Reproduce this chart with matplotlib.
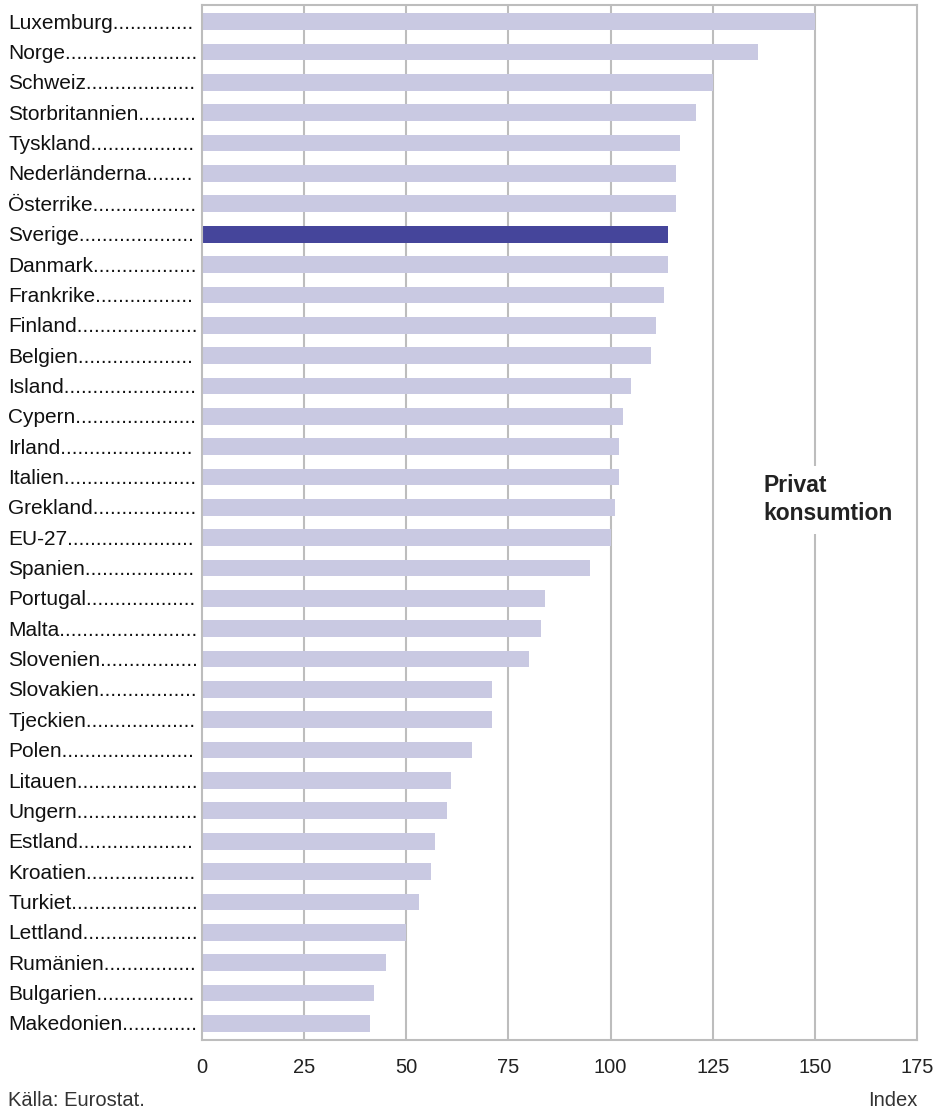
import matplotlib
matplotlib.use("Agg")
import matplotlib.pyplot as plt
import matplotlib.transforms as mtransforms

plt.rcParams['font.family'] = ['Liberation Sans', 'DejaVu Sans']

countries = ['Luxemburg', 'Norge', 'Schweiz', 'Storbritannien', 'Tyskland',
             'Nederländerna', 'Österrike', 'Sverige', 'Danmark', 'Frankrike',
             'Finland', 'Belgien', 'Island', 'Cypern', 'Irland', 'Italien',
             'Grekland', 'EU-27', 'Spanien', 'Portugal', 'Malta', 'Slovenien',
             'Slovakien', 'Tjeckien', 'Polen', 'Litauen', 'Ungern', 'Estland',
             'Kroatien', 'Turkiet', 'Lettland', 'Rumänien', 'Bulgarien',
             'Makedonien']
values = [150, 136, 125, 121, 117, 116, 116, 114, 114, 113, 111, 110, 105,
          103, 102, 102, 101, 100, 95, 84, 83, 80, 71, 71, 66, 61, 60, 57,
          56, 53, 50, 45, 42, 41]
highlight = 'Sverige'
xticks = [0, 25, 50, 75, 100, 125, 150, 175]

W, H = 946, 1115
fig = plt.figure(figsize=(W / 100, H / 100), dpi=100)
ax = fig.add_axes([202 / W, 75 / H, (917 - 202) / W, (1110 - 75) / H])

light = '#c9c9e2'
dark = '#45459b'
grid = '#bdbdbd'
fs = 14.5

ypos = list(range(len(countries)))
colors = [dark if c == highlight else light for c in countries]
ax.barh(ypos, values, height=0.55, color=colors, zorder=2)

ax.set_xlim(0, 175)
ax.set_ylim(len(countries) - 0.5 + 0.05, -0.55)
ax.set_xticks(xticks)
ax.set_xticklabels([str(t) for t in xticks], fontsize=fs, color='#222222')
ax.tick_params(axis='x', length=0, pad=13)
ax.set_yticks([])
for t in xticks[1:-1]:
    ax.axvline(t, color=grid, lw=1.5, zorder=1)
for sp in ax.spines.values():
    sp.set_color(grid)
    sp.set_linewidth(1.5)

# labels with dot leaders
fig.canvas.draw()
renderer = fig.canvas.get_renderer()
trans = mtransforms.blended_transform_factory(fig.transFigure, ax.transData)
max_w = 198 - 8
for y, name in zip(ypos, countries):
    txt = fig.text(8 / W, y + 0.05, name, transform=trans, ha='left',
                   va='center', fontsize=15, color='#111111')
    s = name
    while True:
        txt.set_text(s + '.')
        if txt.get_window_extent(renderer).width > max_w:
            break
        s = s + '.'
    txt.set_text(s)

ax.text(137.5, 15.75, 'Privat\nkonsumtion', ha='left', va='center',
        fontsize=16.5, fontweight='bold', color='#222222', linespacing=1.3,
        bbox=dict(facecolor='white', edgecolor='none', pad=6), zorder=3)

fig.text(8 / W, 1 - 1100 / H, 'Källa: Eurostat.', ha='left', va='center',
         fontsize=fs, color='#333333')
fig.text(917 / W, 1 - 1100 / H, 'Index', ha='right', va='center',
         fontsize=fs, color='#333333')

fig.savefig('out.png', dpi=100)
